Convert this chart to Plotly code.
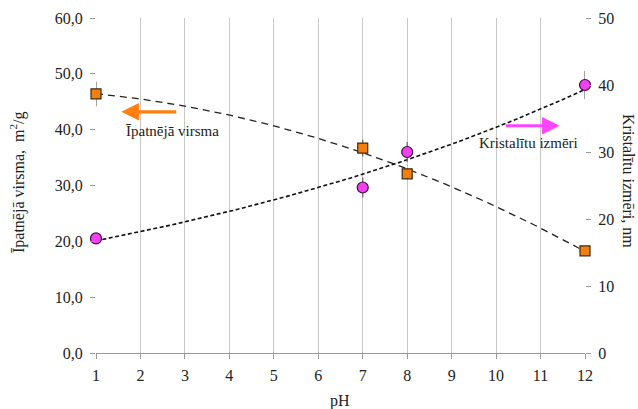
import numpy as np
import plotly.graph_objects as go

ph = [1, 7, 8, 12]
surface_area = [46.4, 36.7, 32.1, 18.3]       # Īpatnējā virsma, m2/g (left axis)
surface_err = [2.2, 1.5, 1.0, 0.8]
crystal_size = [17.1, 24.7, 30.0, 40.0]       # Kristalītu izmēri, nm (right axis)
crystal_err = [0.8, 1.5, 1.5, 2.1]

x_ticks = list(range(1, 13))
left_ticks = [0, 10, 20, 30, 40, 50, 60]
right_ticks = [0, 10, 20, 30, 40, 50]

FONT = "Liberation Serif, Times New Roman, DejaVu Serif, serif"
TXT = "#222"

# Excel-style trendlines: polynomial (order 2) and exponential
xs = np.linspace(1, 12, 200)
p_sa = np.polyfit(ph, surface_area, 2)
trend_sa = np.polyval(p_sa, xs)
p_cs = np.polyfit(ph, np.log(crystal_size), 1)
trend_cs = np.exp(np.polyval(p_cs, xs))

fig = go.Figure()
fig.add_trace(go.Scatter(x=xs, y=trend_sa, mode="lines",
                         line=dict(color="#222", width=1.3, dash="7px,5px"),
                         showlegend=False, hoverinfo="skip"))
fig.add_trace(go.Scatter(x=xs, y=trend_cs, mode="lines", yaxis="y2",
                         line=dict(color="#111", width=1.6, dash="4px,2.5px"),
                         showlegend=False, hoverinfo="skip"))
fig.add_trace(go.Scatter(x=ph, y=surface_area, mode="markers", cliponaxis=False,
                         error_y=dict(type="data", array=surface_err, color="#666", thickness=1.2, width=0),
                         marker=dict(symbol="square", size=10, color="#F57F0E",
                                     line=dict(color="#3a2a10", width=1.2)),
                         showlegend=False))
fig.add_trace(go.Scatter(x=ph, y=crystal_size, mode="markers", yaxis="y2", cliponaxis=False,
                         error_y=dict(type="data", array=crystal_err, color="#666", thickness=1.2, width=0),
                         marker=dict(symbol="circle", size=11, color="#F040F0",
                                     line=dict(color="#3a103a", width=1.2)),
                         showlegend=False))

W, H = 638, 409
L, R, T, B = 96, 53, 18, 56

def px_to_paper(px, py):
    return (px - L) / (W - L - R), 1 - (py - T) / (H - T - B)

lx, ly = px_to_paper(18, 182)
rx, ry = px_to_paper(629, 181)
bx, by = px_to_paper(340, 401)

annotations = [
    dict(x=1.57, y=43.2, ax=2.84, ay=43.2, xref="x", yref="y", axref="x", ayref="y",
         text="", showarrow=True, arrowhead=2, arrowsize=1.1, arrowwidth=3.2, arrowcolor="#FF7F0E"),
    dict(x=11.43, y=40.7, ax=10.19, ay=40.7, xref="x", yref="y", axref="x", ayref="y",
         text="", showarrow=True, arrowhead=2, arrowsize=1.1, arrowwidth=3.2, arrowcolor="#FF44FF"),
    dict(x=2.72, y=39.8, xref="x", yref="y", text="Īpatnējā virsma", showarrow=False,
         xanchor="center", yanchor="middle", font=dict(family=FONT, size=15, color=TXT)),
    dict(x=10.73, y=37.7, xref="x", yref="y", text="Kristalītu izmēri", showarrow=False,
         xanchor="center", yanchor="middle", font=dict(family=FONT, size=15, color=TXT)),
    dict(x=lx, y=ly, xref="paper", yref="paper", text="Īpatnējā virsma,  m<sup>2</sup>/g",
         showarrow=False, textangle=-90, xanchor="center", yanchor="middle",
         font=dict(family=FONT, size=16, color=TXT)),
    dict(x=rx, y=ry, xref="paper", yref="paper", text="Kristalītu izmēri, nm",
         showarrow=False, textangle=90, xanchor="center", yanchor="middle",
         font=dict(family=FONT, size=16, color=TXT)),
    dict(x=bx, y=by, xref="paper", yref="paper", text="pH",
         showarrow=False, xanchor="center", yanchor="middle",
         font=dict(family=FONT, size=16, color=TXT)),
]

tickfont = dict(family=FONT, size=16, color=TXT)

fig.update_layout(
    width=W, height=H,
    margin=dict(l=L, r=R, t=T, b=B, autoexpand=False),
    paper_bgcolor="white", plot_bgcolor="white",
    separators=", ",
    font=dict(family=FONT, size=16, color=TXT),
    xaxis=dict(range=[1, 12], tickvals=x_ticks, showgrid=True, gridcolor="#c8c8c8", gridwidth=1,
               zeroline=False, showline=True, linecolor="#999", ticks="outside", ticklen=5,
               tickcolor="#999", tickfont=tickfont, automargin=False, ticklabelstandoff=3),
    yaxis=dict(range=[0, 60], tickvals=left_ticks, tickformat=".1f", showgrid=False,
               zeroline=False, showline=False, ticks="outside", ticklen=5, tickcolor="#999",
               tickfont=tickfont, automargin=False, ticklabelstandoff=4),
    yaxis2=dict(range=[0, 50], tickvals=right_ticks, overlaying="y", side="right", showgrid=False,
                zeroline=False, showline=False, ticks="outside", ticklen=5, tickcolor="#999",
                tickfont=tickfont, automargin=False, ticklabelstandoff=4),
    annotations=annotations,
)

fig.write_html("out.html", config={"displayModeBar": False},
               post_script="document.body.style.margin='0';document.body.style.overflow='hidden';")
